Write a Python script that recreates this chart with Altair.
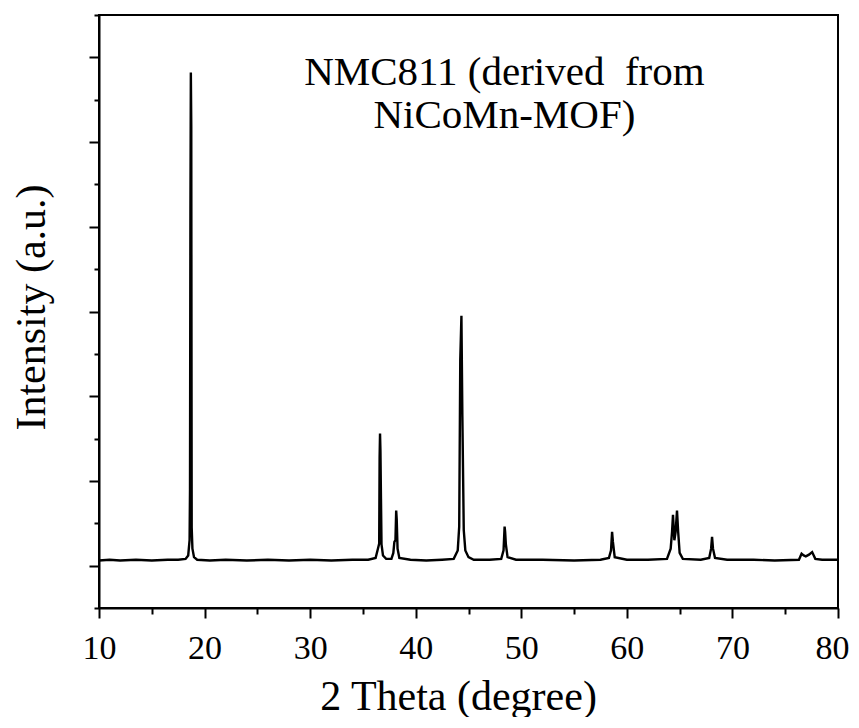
import altair as alt
import pandas as pd

# XRD pattern (2-theta in degrees, intensity in arbitrary units)
two_theta = [
    10.0, 11.0, 12.0, 13.5, 15.0, 16.5, 17.5, 18.2, 18.45, 18.58, 18.62, 18.66, 18.70, 18.74, 18.78,
    18.85, 19.0, 19.3, 20.5, 22.0, 24.0, 26.0, 28.0, 30.0, 32.0, 34.0, 35.5, 36.2, 36.42, 36.54,
    36.58, 36.62, 36.66, 36.71, 36.76, 36.9, 37.2, 37.7, 37.88, 37.98, 38.08, 38.15, 38.2, 38.28,
    38.45, 39.5, 41.0, 42.5, 43.6, 43.98, 44.12, 44.22, 44.33, 44.42, 44.55, 44.7, 45.0, 45.5, 47.0,
    48.1, 48.32, 48.42, 48.47, 48.54, 48.7, 49.5, 52.0, 55.0, 57.5, 58.3, 58.5, 58.6, 58.68, 58.85,
    60.0, 62.0, 63.8, 64.15, 64.28, 64.37, 64.5, 64.62, 64.75, 64.86, 65.0, 65.3, 67.0, 67.8, 67.98,
    68.07, 68.16, 68.35, 69.5, 72.0, 74.0, 76.3, 76.55, 76.75, 76.95, 77.25, 77.55, 77.85, 78.5, 80.0,
]
intensity = [
    0.06, 0.07, 0.06, 0.07, 0.06, 0.07, 0.07, 0.08, 0.12, 0.30, 0.90, 4.20, 5.82, 5.18, 0.45,
    0.20, 0.10, 0.07, 0.06, 0.07, 0.06, 0.07, 0.06, 0.07, 0.06, 0.07, 0.07, 0.09, 0.20, 0.26,
    1.28, 1.56, 1.35, 0.79, 0.25, 0.12, 0.08, 0.08, 0.15, 0.28, 0.30, 0.65, 0.55, 0.20,
    0.09, 0.07, 0.06, 0.07, 0.08, 0.18, 0.46, 2.43, 2.95, 1.76, 0.42, 0.18, 0.10, 0.07, 0.07,
    0.08, 0.18, 0.46, 0.40, 0.25, 0.10, 0.07, 0.07, 0.06, 0.07, 0.09, 0.18, 0.40, 0.28, 0.10,
    0.07, 0.07, 0.08, 0.20, 0.40, 0.60, 0.30, 0.40, 0.65, 0.40, 0.15, 0.08, 0.07, 0.09, 0.20,
    0.34, 0.20, 0.09, 0.07, 0.07, 0.06, 0.07, 0.14, 0.12, 0.11, 0.13, 0.16, 0.08, 0.07, 0.07,
]

x_major = [10, 20, 30, 40, 50, 60, 70, 80]
x_minor = [15, 25, 35, 45, 55, 65, 75]
y_major = [0, 1, 2, 3, 4, 5, 6]
y_minor = [-0.5, 0.5, 1.5, 2.5, 3.5, 4.5, 5.5, 6.5]

note_lines = ["NMC811 (derived\u00a0 from", "NiCoMn-MOF)"]
note_x = 48.4
note_y = 5.67

df = pd.DataFrame({"theta": two_theta, "intensity": intensity})

FONT = "Liberation Serif"
xscale = alt.Scale(domain=[10, 80], nice=False, zero=False)
yscale = alt.Scale(domain=[-0.5, 6.5], nice=False, zero=False)

tick_style = dict(tickColor="black", tickWidth=2, labelColor="black", titleColor="black",
                  grid=False, labelFont=FONT, titleFont=FONT)

line = alt.Chart(df).mark_line(color="black", strokeWidth=2.4).encode(
    x=alt.X("theta:Q", scale=xscale,
            axis=alt.Axis(values=x_major, tickSize=10, labelFontSize=34, labelPadding=13,
                          labelOffset={"condition": {"test": "datum.value === 80", "value": -6}, "value": 0},
                          title="2 Theta (degree)", titleFontSize=42, titleFontWeight="normal",
                          titleX=359, titleY=101, titleBaseline="alphabetic", titleAlign="center",
                          orient="bottom", labelFlush=False, labelOverlap=False,
                          domainColor="black", domainWidth=2, **tick_style)),
    y=alt.Y("intensity:Q", scale=yscale,
            axis=alt.Axis(values=y_major, tickSize=10, labels=False,
                          title="Intensity (a.u.)", titleFontSize=42, titleFontWeight="normal",
                          titleX=-55, titleY=292, titleAngle=270, titleBaseline="alphabetic",
                          titleAlign="center", orient="left",
                          domainColor="black", domainWidth=2, **tick_style)),
)

minor = alt.Chart(df).mark_line(opacity=0).encode(
    x=alt.X("theta:Q", scale=xscale,
            axis=alt.Axis(values=x_minor, tickSize=6, labels=False, title=None, domain=False,
                          orient="bottom", **tick_style)),
    y=alt.Y("intensity:Q", scale=yscale,
            axis=alt.Axis(values=y_minor, tickSize=5, labels=False, title=None, domain=False,
                          orient="left", **tick_style)),
)

note = alt.Chart(pd.DataFrame({"t": [0]})).mark_text(
    text=note_lines, font=FONT, fontSize=41, color="black", align="center",
    baseline="alphabetic", lineHeight=43,
).encode(x=alt.datum(note_x, scale=xscale, axis=None),
         y=alt.datum(note_y, scale=yscale, axis=None))

chart = alt.layer(line, minor, note).resolve_axis(x="independent", y="independent").properties(
    width=739, height=593,
    autosize=alt.AutoSizeParams(type="none"),
    padding={"left": 91, "top": 7, "right": 12, "bottom": 109},
).configure(background="white", font=FONT).configure_view(
    stroke="black", strokeWidth=2
).configure_text(font=FONT)

chart.save("out.html", embed_options={"renderer": "svg", "actions": False})
